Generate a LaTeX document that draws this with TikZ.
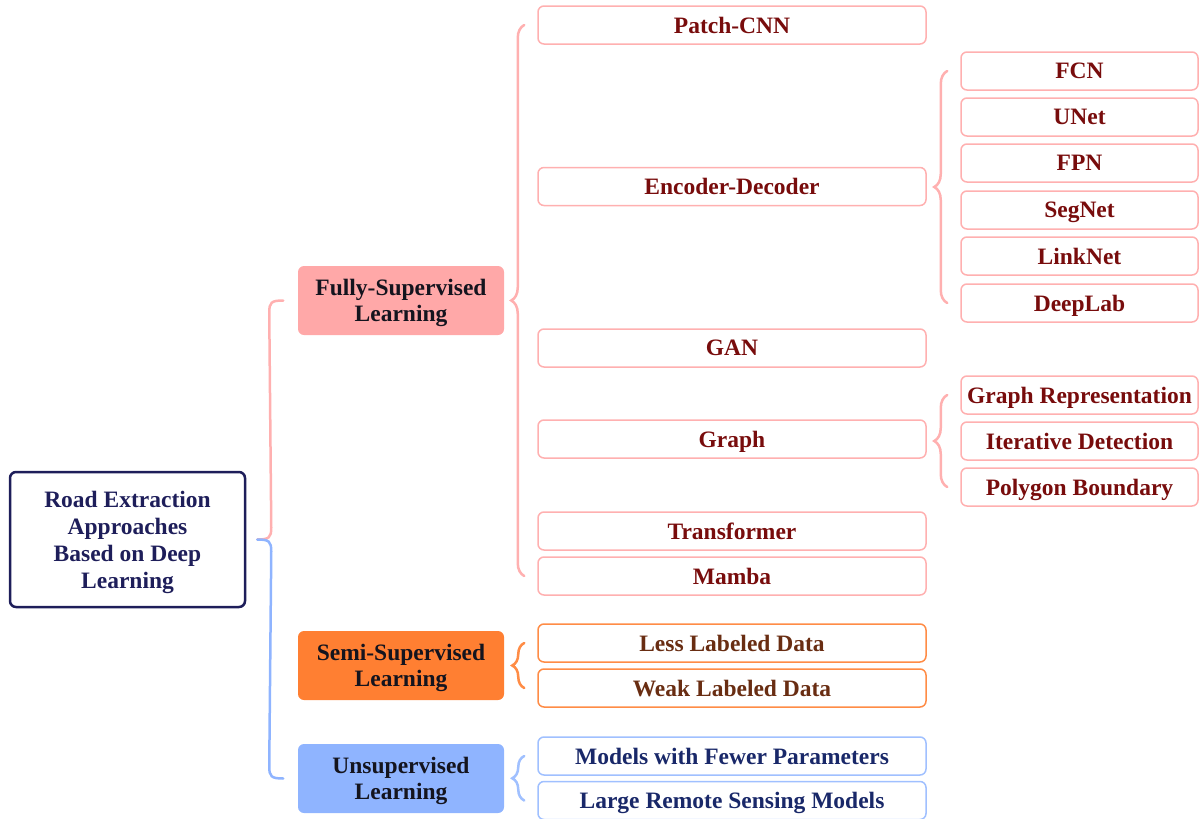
\documentclass[tikz,border=0pt]{standalone}
\usepackage{fontspec}
\setmainfont{Liberation Serif}
\usetikzlibrary{decorations.pathreplacing,calc}
\definecolor{pinkB}{RGB}{255,176,176}
\definecolor{pinkF}{RGB}{255,168,168}
\definecolor{orgF}{RGB}{255,127,50}
\definecolor{orgB}{RGB}{255,140,70}
\definecolor{bluF}{RGB}{143,180,255}
\definecolor{bluB}{RGB}{160,192,255}
\definecolor{redT}{RGB}{120,12,12}
\definecolor{brnT}{RGB}{105,45,18}
\definecolor{navT}{RGB}{25,40,105}
\definecolor{rootB}{RGB}{30,30,90}
\definecolor{lvT}{RGB}{20,20,30}
\begin{document}
\begin{tikzpicture}[x=1pt,y=-1pt,
  base/.style={rounded corners=6pt, font=\fontsize{23.5}{26.5}\selectfont\bfseries, align=center, inner sep=0pt, line width=1.5pt, text depth=0pt},
  leafP/.style={base, draw=pinkB, fill=white, text=redT, minimum width=388pt, minimum height=38pt},
  leafO/.style={base, draw=orgB, fill=white, text=brnT, minimum width=388pt, minimum height=38pt},
  leafB/.style={base, draw=bluB, fill=white, text=navT, minimum width=388pt, minimum height=38pt},
  subP/.style={leafP, minimum width=237pt},
  lvl/.style={base, text=lvT, minimum width=206pt, minimum height=69pt},
  brw/.style={line width=2.5pt, line cap=round},
  brc/.style={brw, decorate, decoration={brace, amplitude=13pt, aspect=0.5}}
]
\useasboundingbox (0,0) rectangle (1200,819);

% root
\node[base, draw=rootB, line width=2.5pt, text=rootB, minimum width=235pt, minimum height=135pt,
  font=\fontsize{23.5}{27}\selectfont\bfseries] (root) at (127.5,539.5)
  {Road Extraction\\Approaches\\Based on Deep\\Learning};

% level 1
\node[lvl, fill=pinkF] (fs) at (401,300.5) {Fully-Supervised\\Learning};
\node[lvl, fill=orgF] (ss) at (401,665.5) {Semi-Supervised\\Learning};
\node[lvl, fill=bluF] (us) at (401,778.5) {Unsupervised\\Learning};

% level 2
\node[leafP] (pcnn) at (732,25) {Patch-CNN};
\node[leafP] (ed) at (732,186.5) {Encoder-Decoder};
\node[leafP] (gan) at (732,348) {GAN};
\node[leafP] (graph) at (732,439) {Graph};
\node[leafP] (trans) at (732,531) {Transformer};
\node[leafP] (mamba) at (732,576) {Mamba};
\node[leafO] (less) at (732,643) {Less Labeled Data};
\node[leafO] (weak) at (732,688) {Weak Labeled Data};
\node[leafB] (fewer) at (732,756) {Models with Fewer Parameters};
\node[leafB] (large) at (732,800.5) {Large Remote Sensing Models};

% level 3
\node[subP] (fcn) at (1079.5,71) {FCN};
\node[subP] (unet) at (1079.5,117) {UNet};
\node[subP] (fpn) at (1079.5,163) {FPN};
\node[subP] (seg) at (1079.5,210) {SegNet};
\node[subP] (link) at (1079.5,256) {LinkNet};
\node[subP] (deep) at (1079.5,303) {DeepLab};
\node[subP] (grep) at (1079.5,395) {Graph Representation};
\node[subP] (iter) at (1079.5,441) {Iterative Detection};
\node[subP] (poly) at (1079.5,487) {Polygon Boundary};

% root brace (two colours)
\coordinate (rt) at ($(root.east)+(11,0)$);
\draw[brw, pinkB] ($(fs.west)+(-14,0)$) .. controls ($(fs.west)+(-26,0)$) and ($(fs.west)+(-28,2)$) .. ($(fs.west)+(-28,12)$)
  -- ($(rt)+(14,-12)$) .. controls ($(rt)+(14,-2)$) and ($(rt)+(12,0)$) .. (rt);
\draw[brw, bluF] (rt) .. controls ($(rt)+(12,0)$) and ($(rt)+(14,2)$) .. ($(rt)+(14,12)$)
  -- ($(us.west)+(-28,-12)$) .. controls ($(us.west)+(-28,-2)$) and ($(us.west)+(-26,0)$) .. ($(us.west)+(-14,0)$);

% group braces
\draw[brc, pinkB] ($(mamba.west)+(-13,0)$) -- ($(pcnn.west)+(-13,0)$);
\draw[brc, pinkB] ($(deep.west)+(-13,0)$) -- ($(fcn.west)+(-13,0)$);
\draw[brc, pinkB] ($(poly.west)+(-13,0)$) -- ($(grep.west)+(-13,0)$);
\draw[brc, orgB, decoration={amplitude=12pt}] ($(weak.west)+(-13,0)$) -- ($(less.west)+(-13,0)$);
\draw[brc, bluB, decoration={amplitude=12pt}] ($(large.west)+(-13,0)$) -- ($(fewer.west)+(-13,0)$);
\end{tikzpicture}
\end{document}
